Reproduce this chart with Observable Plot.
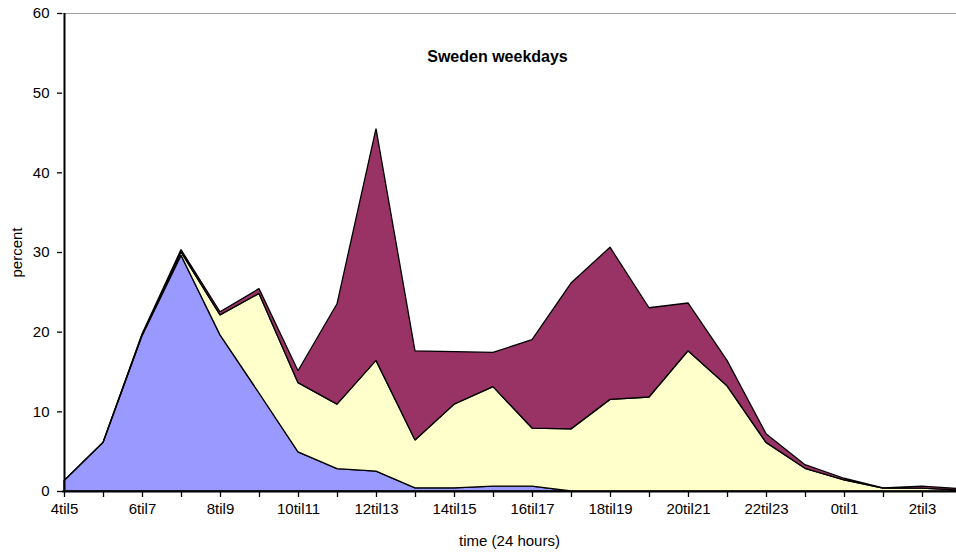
<!DOCTYPE html>
<html>
<head>
<meta charset="utf-8">
<script src="https://cdn.jsdelivr.net/npm/d3@7"></script>
<script src="https://cdn.jsdelivr.net/npm/@observablehq/plot@0.6"></script>
<style>
  html, body { margin: 0; padding: 0; background: #fff; }
  #chart svg { display: block; overflow: hidden; }
</style>
</head>
<body>
<div id="chart"></div>
<script>
// Categories (hour slots) and the labelled subset
const categories = ["4til5","5til6","6til7","7til8","8til9","9til10","10til11","11til12","12til13","13til14","14til15","15til16","16til17","17til18","18til19","19til20","20til21","21til22","22til23","23til0","0til1","1til2","2til3","3til4"];
const xTickLabels = ["4til5","6til7","8til9","10til11","12til13","14til15","16til17","18til19","20til21","22til23","0til1","2til3"];
const yTicks = [0, 10, 20, 30, 40, 50, 60];

// Series (stacked bottom to top)
const seriesNames = ["Series 1", "Series 2", "Series 3"];
const series1 = [1.3, 6.1, 19.5, 29.6, 19.6, 12.3, 4.9, 2.8, 2.5, 0.4, 0.4, 0.6, 0.6, 0, 0, 0, 0, 0, 0, 0, 0, 0, 0, 0];
const series2 = [0.0, 0.0, 0.1, 0.4, 2.5, 12.5, 8.7, 8.1, 13.9, 6.0, 10.5, 12.5, 7.3, 7.8, 11.5, 11.8, 17.6, 13.2, 6.1, 2.85, 1.4, 0.35, 0.35, 0.1];
const series3 = [0.0, 0.0, 0.1, 0.3, 0.4, 0.6, 1.5, 12.6, 29.1, 11.2, 6.6, 4.3, 11.1, 18.3, 19.1, 11.2, 6.0, 3.2, 1.1, 0.45, 0.2, 0.05, 0.25, 0.2];

const title = "Sweden weekdays";
const xTitle = "time (24 hours)";
const yTitle = "percent";

const seriesColors = ["#9999FF", "#FFFFCC", "#993366"];

const valuesBySeries = [series1, series2, series3];
const rows = [];
seriesNames.forEach((s, si) => {
  categories.forEach((c, ci) => rows.push({ series: s, cat: c, value: valuesBySeries[si][ci] }));
});
const labelSet = new Set(xTickLabels);

const chart = Plot.plot({
  width: 956,
  height: 555,
  marginLeft: 62,
  marginRight: 0,
  marginTop: 13,
  marginBottom: 64,
  style: { fontFamily: "'Liberation Sans', Arial, sans-serif", fontSize: "15px", color: "#000", background: "#fff" },
  x: { type: "point", domain: categories, range: [62, 962], padding: 0 },
  y: { domain: [0, 60], range: [491, 13] },
  color: { domain: seriesNames, range: seriesColors },
  marks: [
    Plot.ruleY([60], { stroke: "#a0a0a0", strokeWidth: 1 }),
    Plot.areaY(rows, {
      x: "cat", y: "value", z: "series", fill: "series", order: seriesNames,
      stroke: "#000", strokeWidth: 1.3, strokeLinejoin: "miter", clip: true
    }),
    Plot.ruleY([0], { stroke: "#000", strokeWidth: 2 }),
    Plot.ruleX([categories[0]], { y1: 0, y2: 60, stroke: "#000", strokeWidth: 2 }),
    Plot.axisY({
      ticks: yTicks, tickSize: 5, tickPadding: 8, tickFormat: d => String(d),
      label: yTitle, labelAnchor: "center", labelArrow: "none", labelOffset: 51,
      stroke: "#000", strokeWidth: 1.3
    }),
    Plot.axisX({
      tickSize: 6, tickPadding: 6, tickFormat: d => labelSet.has(d) ? d : "",
      label: xTitle, labelAnchor: "center", labelArrow: "none", labelOffset: 54,
      stroke: "#000", strokeWidth: 1.3
    }),
    Plot.text([title], {
      frameAnchor: "top", dy: 37, dx: -12, text: d => d,
      fontWeight: "bold", fontSize: 16, fill: "#000"
    })
  ]
});
document.getElementById("chart").appendChild(chart);
</script>
</body>
</html>
